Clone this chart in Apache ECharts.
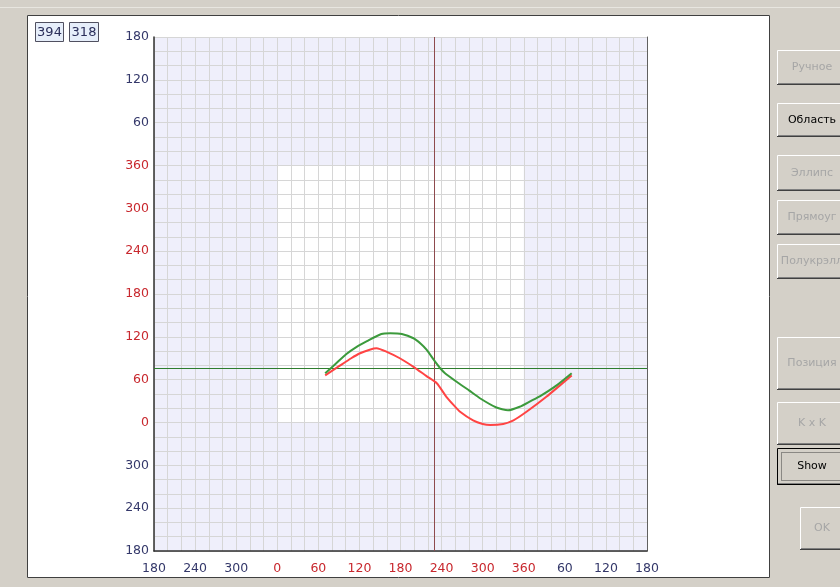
<!DOCTYPE html>
<html><head><meta charset="utf-8">
<script src="https://cdn.jsdelivr.net/npm/echarts@6/dist/echarts.min.js"></script>
<style>html,body{margin:0;padding:0;background:#D4D0C8}#c{width:840px;height:587px}</style>
</head><body><div id="c"></div>
<script>
// ---- data ----
const xTickLabels = ['180','240','300','0','60','120','180','240','300','360','60','120','180'];
const yTickLabels = ['180','240','300','0','60','120','180','240','300','360','60','120','180'];
const innerFirst = 3, innerLast = 9;           // tick indices shown in red
const axisMin = -180, axisMax = 540, labelStep = 60, gridStep = 20;
const regionX = [0, 360];
const regionY = [0, 360];
const greenCurve = [[70,69],[85,82],[101,96],[116,106],[131,114],[152,124],[165,125],[182,124],[199,118],[210,110],[218,102],[230,86],[238,76],[245,69],[262,57],[280,45],[296,34],[320,21],[337,17],[354,22],[370,30],[384,37],[408,52],[430,69]];
const redCurve = [[70,66],[92,80],[108,90],[121,97],[135,102],[145,104],[160,99],[179,90],[199,78],[218,65],[233,55],[247,36],[257,25],[267,15],[286,3],[300,-2],[311,-3.5],[330,-2],[345,3],[364,15],[393,36],[430,66]];
const hLineY = 76;
const vLineX = 230;
const counters = ['394', '318'];
const buttonLabels = ['Ручное','Область','Эллипс','Прямоуг','Полукрэлл','Позиция','K x K','Show','OK'];
const buttonEnabled = [false,true,false,false,false,false,false,true,false];

// ---- helpers ----
const NAVY = '#34386A', RED = '#C8282E';
function isLabelTick(v){ return Math.abs(((v - axisMin) % labelStep)) < 1e-6; }
function tickIndex(v){ return Math.round((v - axisMin) / labelStep); }
function labelFmt(arr){ return v => { if (!isLabelTick(v)) return ''; const i = tickIndex(v); return arr[i] !== undefined ? arr[i] : ''; }; }
function labelColor(v){ const i = tickIndex(v); return (i >= innerFirst && i <= innerLast) ? RED : NAVY; }

const chart = echarts.init(document.getElementById('c'));

// UI chrome (dialog)
const GREY = '#D4D0C8';
const graphics = [
  {type:'rect', shape:{x:0,y:0,width:27,height:587}, style:{fill:GREY}, silent:true},
  {type:'rect', shape:{x:0,y:0,width:840,height:15}, style:{fill:GREY}, silent:true},
  {type:'rect', shape:{x:0,y:578,width:840,height:9}, style:{fill:GREY}, silent:true},
  {type:'rect', shape:{x:770,y:0,width:70,height:587}, style:{fill:GREY}, silent:true},
  {type:'rect', shape:{x:27.5,y:15.5,width:742,height:562}, style:{fill:null, stroke:'#404040', lineWidth:1}, silent:true},
  {type:'line', shape:{x1:0,y1:7.5,x2:840,y2:7.5}, style:{stroke:'#E8E6E0', lineWidth:1}, silent:true}
];
// counters
const counterBoxes = [[35,22,28,19],[69,22,29,19]];
counters.forEach((t,i)=>{
  const b = counterBoxes[i];
  graphics.push({type:'rect', shape:{x:b[0]+0.5,y:b[1]+0.5,width:b[2],height:b[3]}, style:{fill:'#E6EEFA', stroke:'#505060', lineWidth:1}, silent:true});
  graphics.push({type:'text', x:b[0]+b[2]/2+0.5, y:b[1]+b[3]/2+1, style:{text:t, fill:'#2A2E5A', font:'13px "DejaVu Sans"', align:'center', verticalAlign:'middle'}, silent:true});
});
// buttons
const buttonBoxes = [[777,50,70,35],[777,103,70,34],[777,155,70,36],[777,200,70,35],[777,244,70,35],[777,337,70,53],[777,402,70,43],[777,448,70,37],[800,507,50,43]];
buttonLabels.forEach((t,i)=>{
  const [x,y,w,h] = buttonBoxes[i];
  const en = buttonEnabled[i];
  graphics.push({type:'rect', shape:{x:x,y:y,width:w,height:h}, style:{fill:GREY}, silent:true});
  graphics.push({type:'polyline', shape:{points:[[x+0.5,y+h],[x+0.5,y+0.5],[x+w,y+0.5]]}, style:{stroke:'#FFFFFF', lineWidth:1, fill:null}, silent:true});
  graphics.push({type:'polyline', shape:{points:[[x,y+h-0.5],[x+w,y+h-0.5]]}, style:{stroke:'#404040', lineWidth:1, fill:null}, silent:true});
  graphics.push({type:'polyline', shape:{points:[[x+1,y+h-1.5],[x+w,y+h-1.5]]}, style:{stroke:'#808080', lineWidth:1, fill:null}, silent:true});
  if (t === 'Show') {
    graphics.push({type:'rect', shape:{x:x+0.5,y:y+0.5,width:w,height:h-1}, style:{fill:null, stroke:'#000', lineWidth:1}, silent:true});
    graphics.push({type:'rect', shape:{x:x+4.5,y:y+4.5,width:w,height:h-9}, style:{fill:null, stroke:'#404040', lineWidth:1, lineDash:[1,1]}, silent:true});
  }
  const cx = (i===8) ? x+22 : x+35;
  graphics.push({type:'text', x:cx, y:y+h/2, style:{text:t, fill: en ? '#000' : '#A6A6A6', font:'11px "DejaVu Sans"', align:'center', verticalAlign:'middle', textShadowColor: en ? 'transparent' : '#FFFFFF', textShadowOffsetX: en?0:1, textShadowOffsetY: en?0:1, textShadowBlur:0}, silent:true});
});

const axisCommon = {
  type:'value', min:axisMin, max:axisMax, interval:gridStep, z:3,
  axisTick:{show:false},
  splitLine:{show:true, lineStyle:{color:'#D6D6D6', width:1}}
};

chart.setOption({
  backgroundColor:'#FFFFFF',
  animation:false,
  graphic: graphics,
  grid:{left:154, top:37, width:493, height:514, show:true, backgroundColor:'#EFEFFB', borderWidth:0},
  xAxis:[Object.assign({}, axisCommon, {
      position:'bottom',
      axisLine:{show:true, onZero:false, lineStyle:{color:'#303030', width:1.5}},
      axisLabel:{formatter:labelFmt(xTickLabels), color:labelColor, fontFamily:'DejaVu Sans', fontSize:12.5, margin:11, showMinLabel:true, showMaxLabel:true, hideOverlap:false}
    })],
  yAxis:[Object.assign({}, axisCommon, {
      position:'left',
      axisLine:{show:true, onZero:false, lineStyle:{color:'#303030', width:1.5}},
      axisLabel:{formatter:labelFmt(yTickLabels), color:labelColor, fontFamily:'DejaVu Sans', fontSize:12.5, margin:5, showMinLabel:true, showMaxLabel:true, hideOverlap:false}
    }),
    {type:'value', min:axisMin, max:axisMax, interval:gridStep, position:'right', z:3,
     axisLine:{show:true, onZero:false, lineStyle:{color:'#606060', width:1}}, axisTick:{show:false}, axisLabel:{show:false}, splitLine:{show:false}}
  ],
  series:[
    {type:'line', name:'region', data:[], z:1, silent:true,
     markArea:{silent:true, itemStyle:{color:'#FFFFFF'}, data:[[{coord:[regionX[0],regionY[0]]},{coord:[regionX[1],regionY[1]]}]]}},
    {type:'line', name:'refs', data:[], z:4, silent:true,
     markLine:{silent:true, symbol:['none','none'], label:{show:false},
       data:[
         {yAxis:hLineY, lineStyle:{color:'#2E7D2E', width:1, type:'solid'}},
         {xAxis:vLineX, lineStyle:{color:'#8E4A4E', width:1, type:'solid'}}
       ]}},
    {type:'line', name:'green', data:greenCurve, z:6, showSymbol:false, smooth:0.2, lineStyle:{color:'#3C9A3C', width:2}},
    {type:'line', name:'red', data:redCurve, z:5, showSymbol:false, smooth:0.2, lineStyle:{color:'#FF4444', width:2}}
  ]
});
</script>
</body></html>
